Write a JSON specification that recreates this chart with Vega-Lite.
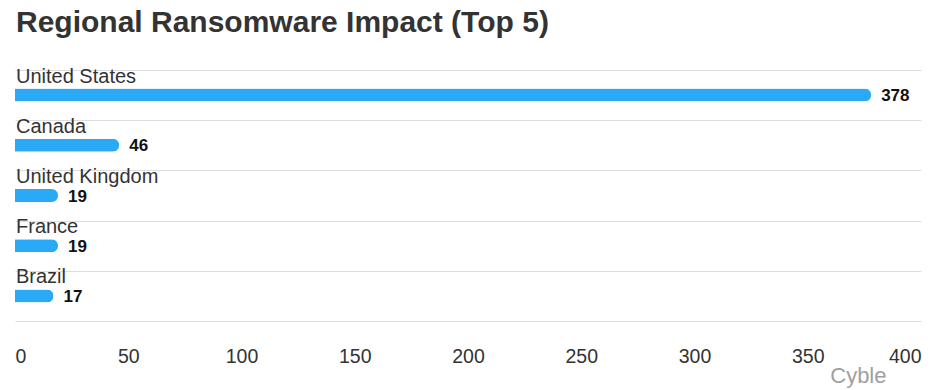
{
  "$schema": "https://vega.github.io/schema/vega-lite/v6.json",
  "width": 906,
  "height": 251,
  "autosize": {"type": "none"},
  "padding": {"left": 15, "top": 70, "right": 15, "bottom": 69},
  "background": "#ffffff",
  "config": {
    "view": {"stroke": null},
    "font": "Liberation Sans"
  },
  "title": {
    "text": "Regional Ransomware Impact (Top 5)",
    "anchor": "start",
    "frame": "group",
    "fontSize": 30,
    "fontWeight": "bold",
    "color": "#333333",
    "font": "Liberation Sans",
    "offset": 29,
    "dx": 1
  },
  "data": {
    "values": [
      {"country": "United States", "value": 378},
      {"country": "Canada", "value": 46},
      {"country": "United Kingdom", "value": 19},
      {"country": "France", "value": 19},
      {"country": "Brazil", "value": 17}
    ]
  },
  "encoding": {
    "y": {
      "field": "country",
      "type": "nominal",
      "sort": null,
      "scale": {"paddingInner": 0, "paddingOuter": 0},
      "axis": {
        "labels": false,
        "ticks": false,
        "domain": false,
        "grid": true,
        "tickBand": "extent",
        "gridColor": "#dedede",
        "gridWidth": 1,
        "title": null
      }
    }
  },
  "layer": [
    {
      "mark": {"type": "bar", "height": 13, "cornerRadiusEnd": 6.5, "color": "#29a9f6"},
      "encoding": {
        "x": {
          "field": "value",
          "type": "quantitative",
          "scale": {"domain": [0, 400], "nice": false},
          "axis": {
            "values": [0, 50, 100, 150, 200, 250, 300, 350, 400],
            "grid": false,
            "ticks": false,
            "tickSize": 0,
            "domain": false,
            "labelFlush": true,
            "labelBaseline": "alphabetic",
            "labelPadding": 41,
            "labelFontSize": 19.5,
            "labelColor": "#333333",
            "labelFont": "Liberation Sans",
            "title": "Cyble",
            "titleAnchor": "end",
            "titleAlign": "right",
            "titleBaseline": "alphabetic",
            "titleX": 871,
            "titleY": 61,
            "titleFontSize": 22,
            "titleFontWeight": "normal",
            "titleColor": "#a0a0a0",
            "titleFont": "Liberation Sans"
          }
        }
      }
    },
    {
      "mark": {"type": "text", "align": "left", "baseline": "alphabetic", "dx": 1, "dy": -12.5, "fontSize": 20, "color": "#333333", "font": "Liberation Sans"},
      "encoding": {
        "x": {"datum": 0, "type": "quantitative"},
        "text": {"field": "country"}
      }
    },
    {
      "mark": {"type": "text", "align": "left", "baseline": "middle", "dx": 10, "dy": 1, "fontSize": 17, "fontWeight": "bold", "color": "#111111", "font": "Liberation Sans"},
      "encoding": {
        "x": {"field": "value", "type": "quantitative"},
        "text": {"field": "value"}
      }
    }
  ]
}
